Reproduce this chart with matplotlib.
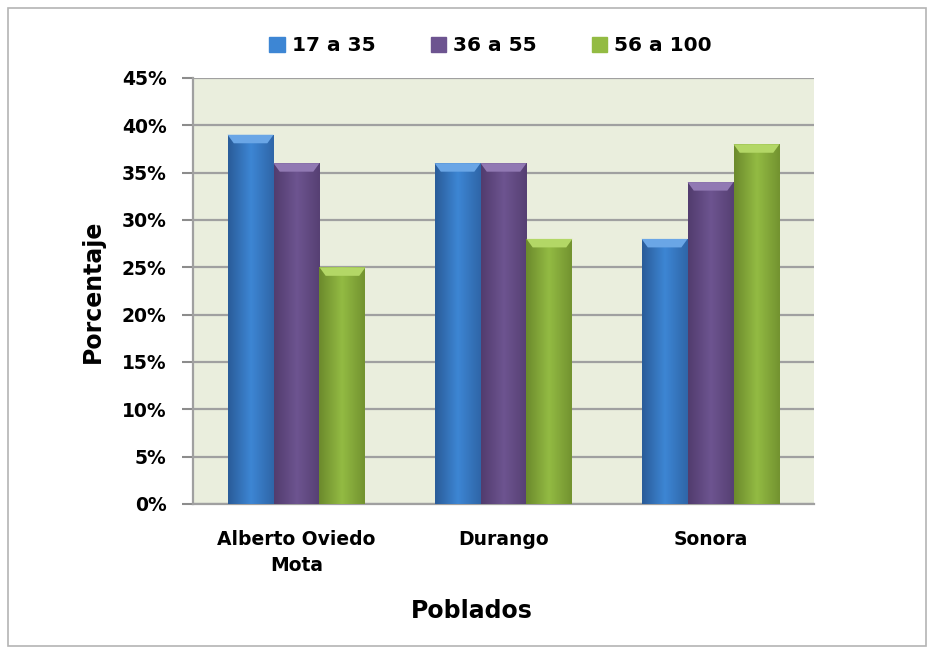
import numpy as np
import matplotlib
matplotlib.use("Agg")
import matplotlib.pyplot as plt
from matplotlib.patches import Rectangle, Polygon
from matplotlib.colors import LinearSegmentedColormap

poblados = ["Alberto Oviedo\nMota", "Durango", "Sonora"]
series = ["17 a 35", "36 a 55", "56 a 100"]
edad_17_35 = [39, 36, 28]
edad_36_55 = [36, 36, 34]
edad_56_100 = [25, 28, 38]
yticks = [0, 5, 10, 15, 20, 25, 30, 35, 40, 45]

# dark edge, light middle, dark edge
colores = [
    ("#2a5c99", "#3d86d4", "#2f66a8"),
    ("#523c6e", "#6d5490", "#564073"),
    ("#6c8a2c", "#93bb43", "#739330"),
]
tapas = ["#6aa6e6", "#9179b3", "#b3d766"]

plt.rcParams['font.family'] = ['DejaVu Sans']
plt.rcParams['font.weight'] = 'bold'

fig = plt.figure(figsize=(9.36, 6.54), dpi=100)
ax = fig.add_axes([0.2062, 0.2294, 0.6635, 0.6514])
ax.set_facecolor("#eaeedd")

x = np.arange(len(poblados))
w = 0.222
valores = [edad_17_35, edad_36_55, edad_56_100]
grad = np.linspace(0, 1, 64).reshape(1, -1)
for i, (nombre, vals) in enumerate(zip(series, valores)):
    cmap = LinearSegmentedColormap.from_list("c%d" % i, colores[i])
    pos = x + (i - 1) * w
    bars = ax.bar(pos, vals, width=w, color=colores[i][1], label=nombre,
                  edgecolor="none", zorder=3)
    for b, v in zip(bars, vals):
        x0 = b.get_x()
        im = ax.imshow(grad, cmap=cmap, aspect="auto", zorder=3.5,
                       extent=[x0, x0 + w, 0, v])
        im.set_clip_path(b)
        d = 0.03
        ax.add_patch(Polygon([(x0, v), (x0 + w, v), (x0 + w - d, v - 0.9),
                              (x0 + d, v - 0.9)], closed=True,
                             color=tapas[i], zorder=4, lw=0))

ax.set_xlim(-0.5, 2.5)
ax.set_ylim(0, 45)
ax.set_yticks(yticks)
ax.set_yticklabels(["%d%%" % t for t in yticks], fontsize=13.5, fontweight="bold")
ax.set_xticks(x)
ax.set_xticklabels(poblados, fontsize=13.5, fontweight="bold", linespacing=1.45)
ax.tick_params(axis="x", length=0, pad=19)
ax.tick_params(axis="y", length=8, width=1.5, color="#8c8c8c", pad=11)
ax.yaxis.grid(True, color="#a0a0a0", lw=1.6, zorder=1)
ax.set_axisbelow(True)
for s in ["top", "right"]:
    ax.spines[s].set_visible(False)
ax.spines["left"].set_color("#a0a0a0")
ax.spines["left"].set_linewidth(1.6)
ax.spines["bottom"].set_color("#a0a0a0")
ax.spines["bottom"].set_linewidth(1.6)

ax.set_ylabel("Porcentaje", fontsize=17, fontweight="bold")
ax.yaxis.set_label_coords(-0.142, 0.5)
ax.set_xlabel("Poblados", fontsize=17, fontweight="bold")
ax.xaxis.set_label_coords(0.449, -0.222)

handles = [Rectangle((0, 0), 1, 1, color=c[1]) for c in colores]
fig.legend(handles, series, loc="center", bbox_to_anchor=(0.524, 0.930),
           ncol=3, frameon=False, handlelength=0.75,
           handleheight=0.75, handletextpad=0.35, columnspacing=2.75,
           prop={"weight": "bold", "size": 14.5})

fig.patches.append(Rectangle((0.009, 0.012), 0.98, 0.976, transform=fig.transFigure,
                             fill=False, edgecolor="#b4b4b4", lw=1.2))

fig.savefig("out.png", dpi=100, facecolor="white")
